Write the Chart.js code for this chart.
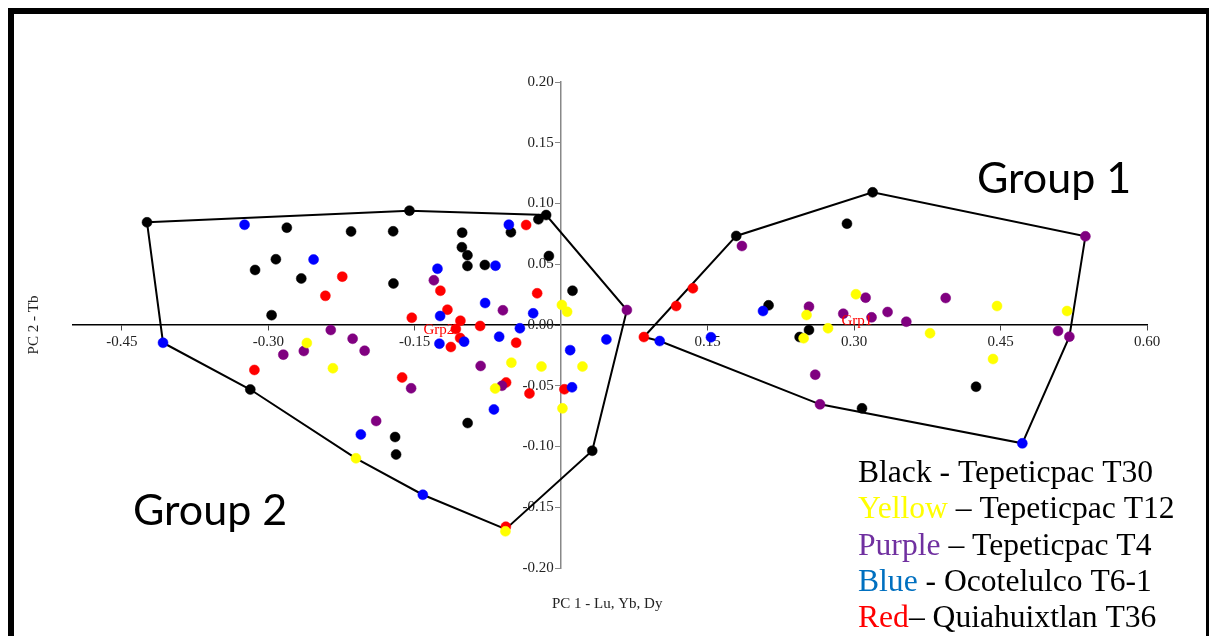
<!DOCTYPE html>
<html>
<head>
<meta charset="utf-8">
<script src="https://cdn.jsdelivr.net/npm/chart.js"></script>
<style>
html, body { margin: 0; padding: 0; background: #fff; overflow: hidden; }
#wrap { position: relative; width: 1209px; height: 636px; overflow: hidden; background: #fff; }
#frame { position: absolute; left: 8px; top: 8px; width: 1192px; height: 700px; border: 6px solid #000; border-bottom: none; }
#pca { position: absolute; left: 0; top: 0; }
</style>
</head>
<body>
<div id="wrap">
  <div id="frame"></div>
  <canvas id="pca" width="1209" height="636"></canvas>
</div>
<script>
// PCA scores (PC 1 on x, PC 2 on y)
const blackX = [-0.4242, -0.2810, -0.2152, -0.1721, -0.2922, -0.3135, -0.2662, -0.1718, -0.2966, -0.3184, -0.1701, -0.1691, -0.1554, -0.0154, -0.0233, -0.0515, -0.1014, -0.1017, -0.0960, -0.0960, -0.0782, -0.0126, 0.0116, -0.0958, 0.0318, 0.1793, 0.3190, 0.2927, 0.2124, 0.2538, 0.2442, 0.3081, 0.4249];
const blackY = [0.0845, 0.0801, 0.0770, 0.0771, 0.0541, 0.0453, 0.0383, 0.0342, 0.0081, -0.0531, -0.0922, -0.1066, 0.0941, 0.0905, 0.0870, 0.0763, 0.0760, 0.0640, 0.0574, 0.0486, 0.0494, 0.0568, 0.0282, -0.0807, -0.1035, 0.0733, 0.1092, 0.0834, 0.0162, -0.0041, -0.0099, -0.0686, -0.0508];

const yellowX = [-0.2605, -0.2338, -0.2102, -0.0571, -0.0510, -0.0202, 0.0218, -0.0676, 0.0013, 0.0007, 0.0061, 0.2513, 0.3019, 0.2733, 0.2483, 0.4464, 0.5181, 0.3778, 0.4423];
const yellowY = [-0.0148, -0.0356, -0.1097, -0.1698, -0.0310, -0.0342, -0.0342, -0.0523, -0.0686, 0.0165, 0.0109, 0.0082, 0.0253, -0.0027, -0.0109, 0.0156, 0.0115, -0.0068, -0.0280];

const purpleX = [-0.2360, -0.2136, -0.2013, -0.2636, -0.2846, -0.1895, -0.1537, -0.1304, -0.0597, -0.0825, -0.0607, 0.0673, 0.1851, 0.2538, 0.3118, 0.2889, 0.3179, 0.3343, 0.3535, 0.3938, 0.5089, 0.5205, 0.5369, 0.2602, 0.2651];
const purpleY = [-0.0041, -0.0113, -0.0212, -0.0214, -0.0244, -0.0790, -0.0521, 0.0368, 0.0121, -0.0337, -0.0500, 0.0123, 0.0650, 0.0151, 0.0225, 0.0093, 0.0063, 0.0107, 0.0027, 0.0222, -0.0049, -0.0096, 0.0730, -0.0409, -0.0653];

const blueX = [-0.3243, -0.2536, -0.4078, -0.2052, -0.1417, -0.0536, -0.0673, -0.1267, -0.0779, -0.1240, -0.0287, -0.0423, -0.0635, -0.0994, -0.1247, 0.0092, 0.0463, 0.0111, -0.0689, 0.1009, 0.1534, 0.2067, 0.4723];
const blueY = [0.0825, 0.0539, -0.0146, -0.0901, -0.1397, 0.0826, 0.0488, 0.0463, 0.0181, 0.0074, 0.0096, -0.0027, -0.0096, -0.0137, -0.0154, -0.0207, -0.0119, -0.0513, -0.0695, -0.0132, -0.0101, 0.0115, -0.0974];

const redX = [-0.2242, -0.2415, -0.3142, -0.1629, -0.0359, -0.1237, -0.0246, -0.1165, -0.1530, -0.1032, -0.1079, -0.0830, -0.1035, -0.1130, -0.0461, -0.0564, -0.0325, 0.0033, -0.0567, 0.0847, 0.1178, 0.1349];
const redY = [0.0398, 0.0240, -0.0370, -0.0432, 0.0823, 0.0282, 0.0261, 0.0126, 0.0060, 0.0035, -0.0033, -0.0008, -0.0107, -0.0181, -0.0146, -0.0473, -0.0564, -0.0529, -0.1660, -0.0099, 0.0156, 0.0302];

// hull outlines (closed)
const hull1X = [0.0847, 0.1793, 0.3190, 0.5369, 0.5205, 0.4723, 0.2651, 0.1009, 0.0847];
const hull1Y = [-0.0099, 0.0733, 0.1092, 0.0730, -0.0096, -0.0974, -0.0653, -0.0132, -0.0099];
const hull2X = [-0.4242, -0.4078, -0.3184, -0.2102, -0.1417, -0.0569, 0.0318, 0.0673, -0.0154, -0.1554, -0.4242];
const hull2Y = [0.0845, -0.0146, -0.0531, -0.1097, -0.1397, -0.1680, -0.1035, 0.0123, 0.0905, 0.0941, 0.0845];

// group centroid labels
const groupLabels = ['Grp1', 'Grp2'];
const groupLabelX = [0.287, -0.141];
const groupLabelY = [0.0, -0.0074];

const xTickValues = [-0.45, -0.30, -0.15, 0.15, 0.30, 0.45, 0.60];
const yTickValues = [-0.20, -0.15, -0.10, -0.05, 0.00, 0.05, 0.10, 0.15, 0.20];

// legend text
const legendKeys = ['Black', 'Yellow', 'Purple', 'Blue', 'Red'];
const legendKeyColors = ['#000000', '#ffff00', '#7030a0', '#0070c0', '#ff0000'];
const legendRest = [' - Tepeticpac T30', ' \u2013 Tepeticpac T12', ' \u2013 Tepeticpac T4', ' - Ocotelulco T6-1', '\u2013 Quiahuixtlan T36'];

const toPoints = (xs, ys) => xs.map((v, i) => ({ x: v, y: ys[i] }));

function dotSet(label, xs, ys, color, order) {
    return {
        label: label,
        data: toPoints(xs, ys),
        backgroundColor: color,
        borderColor: color,
        borderWidth: 0.5,
        pointRadius: 5,
        order: order
    };
}

function hullSet(label, xs, ys) {
    return {
        label: label,
        data: toPoints(xs, ys),
        showLine: true,
        borderColor: '#000',
        borderWidth: 2,
        pointRadius: 0,
        fill: false,
        tension: 0,
        order: 6
    };
}

const annotations = {
    id: 'annotations',
    afterDraw(chart) {
        const { ctx, scales: { x, y } } = chart;
        ctx.save();

        ctx.font = '15px "Liberation Serif"';
        ctx.fillStyle = '#ff0000';
        ctx.textAlign = 'left';
        ctx.textBaseline = 'alphabetic';
        groupLabels.forEach((t, i) => {
            ctx.fillText(t, x.getPixelForValue(groupLabelX[i]), y.getPixelForValue(groupLabelY[i]));
        });

        // axis titles
        ctx.fillStyle = '#222';
        ctx.fillText('PC 1 - Lu, Yb, Dy', 552, 608);
        ctx.save();
        ctx.translate(38, 325);
        ctx.rotate(-Math.PI / 2);
        ctx.textAlign = 'center';
        ctx.fillText('PC 2 - Tb', 0, 0);
        ctx.restore();

        // group headings
        ctx.fillStyle = '#000';
        ctx.font = '43px Lato';
        ctx.fillText('Group 1', 977, 193);
        ctx.fillText('Group 2', 133, 525);

        // colour key
        ctx.font = '31.6px "Liberation Serif"';
        legendKeys.forEach((k, i) => {
            const by = 482 + i * 36.3;
            ctx.fillStyle = legendKeyColors[i];
            ctx.fillText(k, 858, by);
            const w = ctx.measureText(k).width;
            ctx.fillStyle = '#000';
            ctx.fillText(legendRest[i], 858 + w, by);
        });
        ctx.restore();
    }
};

const tickFont = { family: 'Liberation Serif', size: 15 };

const pcaChart = new Chart(document.getElementById('pca'), {
    type: 'scatter',
    data: {
        datasets: [
            hullSet('Group 1 hull', hull1X, hull1Y),
            hullSet('Group 2 hull', hull2X, hull2Y),
            dotSet('Tepeticpac T30', blackX, blackY, '#000000', 5),
            dotSet('Quiahuixtlan T36', redX, redY, '#ff0000', 4),
            dotSet('Tepeticpac T4', purpleX, purpleY, '#800080', 3),
            dotSet('Ocotelulco T6-1', blueX, blueY, '#0000ff', 2),
            dotSet('Tepeticpac T12', yellowX, yellowY, '#ffff00', 1)
        ]
    },
    options: {
        responsive: false,
        animation: false,
        layout: { padding: { left: 73, right: 62, top: 82, bottom: 68 } },
        plugins: {
            legend: { display: false },
            tooltip: { enabled: false }
        },
        scales: {
            x: {
                type: 'linear',
                min: -0.5,
                max: 0.6,
                position: { y: 0 },
                afterBuildTicks: s => { s.ticks = xTickValues.map(v => ({ value: v })); },
                grid: { drawOnChartArea: false, drawTicks: true, tickLength: 5, color: '#444' },
                border: { color: '#000', width: 1.5 },
                ticks: { font: tickFont, color: '#222', padding: 3, autoSkip: false, maxRotation: 0, callback: v => v.toFixed(2) }
            },
            y: {
                type: 'linear',
                min: -0.2,
                max: 0.2,
                position: { x: 0 },
                afterBuildTicks: s => { s.ticks = yTickValues.map(v => ({ value: v })); },
                grid: { drawOnChartArea: false, drawTicks: true, tickLength: 5, color: '#888' },
                border: { color: '#888', width: 1.5 },
                // trailing en space keeps the label clear of the tick mark
                ticks: { font: tickFont, color: '#222', padding: 2, autoSkip: false, callback: v => v.toFixed(2) + '\u2002' }
            }
        }
    },
    plugins: [annotations]
});
</script>
</body>
</html>
